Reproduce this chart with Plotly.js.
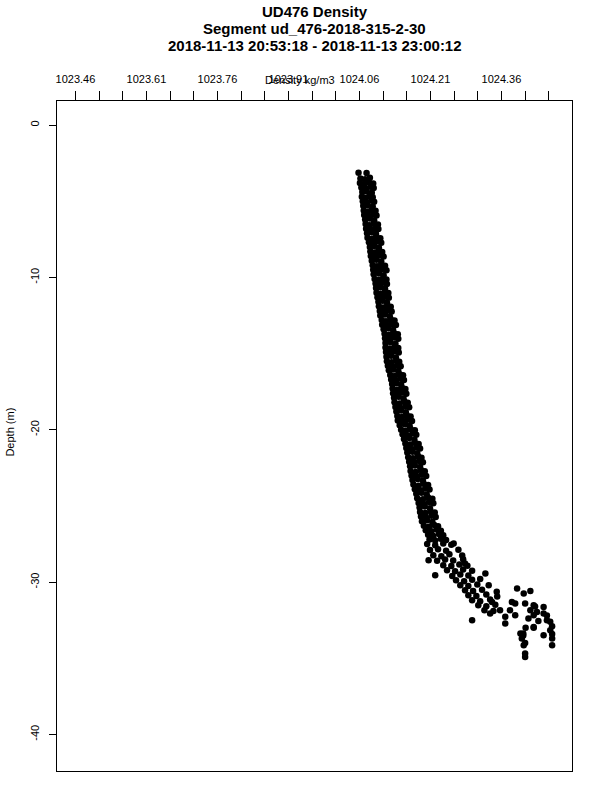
<!DOCTYPE html>
<html>
<head>
<meta charset="utf-8">
<script src="https://cdn.plot.ly/plotly-3.0.1.min.js"></script>
<style>html,body{margin:0;padding:0;background:#fff;}#chart{width:600px;height:800px;}</style>
</head>
<body>
<div id="chart"></div>
<script>
// Title lines
const titleLines = ['UD476 Density', 'Segment ud_476-2018-315-2-30', '2018-11-13 20:53:18 - 2018-11-13 23:00:12'];

// Tick values / labels for the top (density) axis
const densityTickVals = [1023.46, 1023.51, 1023.56, 1023.61, 1023.66, 1023.71, 1023.76, 1023.81, 1023.86, 1023.91, 1023.96, 1024.01, 1024.06, 1024.11, 1024.16, 1024.21, 1024.26, 1024.31, 1024.36, 1024.41, 1024.46];
const densityTickText = ['1023.46', '', '', '1023.61', '', '', '1023.76', '', '', '1023.91', '', '', '1024.06', '', '', '1024.21', '', '', '1024.36', '', ''];
const depthTickVals = [0, -10, -20, -30, -40];
const depthTickText = ['0', '-10', '-20', '-30', '-40'];

const density = [
  1024.058, 1024.075,
  1024.062, 1024.072, 1024.082,
  1024.061, 1024.070, 1024.080, 1024.089,
  1024.064, 1024.073, 1024.083, 1024.090,
  1024.066, 1024.075, 1024.086,
  1024.065, 1024.072, 1024.081, 1024.088,
  1024.067, 1024.076, 1024.085, 1024.091,
  1024.068, 1024.077, 1024.088,
  1024.069, 1024.078, 1024.086, 1024.094,
  1024.070, 1024.080, 1024.090, 1024.096,
  1024.072, 1024.082, 1024.091,
  1024.073, 1024.081, 1024.090, 1024.099,
  1024.074, 1024.084, 1024.093, 1024.100,
  1024.076, 1024.086, 1024.095,
  1024.077, 1024.087, 1024.096, 1024.104,
  1024.080, 1024.089, 1024.098, 1024.106,
  1024.082, 1024.091, 1024.101,
  1024.083, 1024.092, 1024.100, 1024.108,
  1024.084, 1024.094, 1024.103, 1024.111,
  1024.086, 1024.096, 1024.106,
  1024.088, 1024.097, 1024.106, 1024.114,
  1024.089, 1024.099, 1024.108, 1024.117,
  1024.090, 1024.101, 1024.111,
  1024.092, 1024.101, 1024.110, 1024.117,
  1024.094, 1024.103, 1024.112, 1024.118,
  1024.095, 1024.104, 1024.114,
  1024.096, 1024.105, 1024.114, 1024.121,
  1024.098, 1024.107, 1024.116, 1024.122,
  1024.100, 1024.109, 1024.118,
  1024.101, 1024.110, 1024.119, 1024.126,
  1024.103, 1024.112, 1024.121, 1024.128,
  1024.104, 1024.114, 1024.124,
  1024.107, 1024.116, 1024.126, 1024.134,
  1024.108, 1024.118, 1024.128, 1024.137,
  1024.111, 1024.121, 1024.131,
  1024.113, 1024.123, 1024.133, 1024.141,
  1024.114, 1024.124, 1024.134, 1024.142,
  1024.115, 1024.125, 1024.136,
  1024.115, 1024.124, 1024.134, 1024.142,
  1024.116, 1024.126, 1024.135, 1024.143,
  1024.117, 1024.127, 1024.137,
  1024.118, 1024.128, 1024.138, 1024.144,
  1024.120, 1024.130, 1024.140, 1024.147,
  1024.122, 1024.132, 1024.142,
  1024.125, 1024.135, 1024.145, 1024.152,
  1024.127, 1024.137, 1024.147, 1024.154,
  1024.129, 1024.138, 1024.148,
  1024.130, 1024.140, 1024.150, 1024.157,
  1024.131, 1024.141, 1024.151, 1024.159,
  1024.133, 1024.143, 1024.153,
  1024.134, 1024.145, 1024.155, 1024.162,
  1024.136, 1024.146, 1024.157, 1024.165,
  1024.138, 1024.148, 1024.158,
  1024.140, 1024.150, 1024.160, 1024.168,
  1024.141, 1024.152, 1024.162, 1024.171,
  1024.145, 1024.156, 1024.166,
  1024.148, 1024.158, 1024.168, 1024.177,
  1024.151, 1024.162, 1024.172, 1024.180,
  1024.154, 1024.165, 1024.176,
  1024.157, 1024.167, 1024.177, 1024.185,
  1024.159, 1024.169, 1024.180, 1024.188,
  1024.161, 1024.172, 1024.182,
  1024.163, 1024.173, 1024.184, 1024.191,
  1024.165, 1024.175, 1024.186, 1024.194,
  1024.167, 1024.177, 1024.188,
  1024.168, 1024.179, 1024.190, 1024.198,
  1024.170, 1024.181, 1024.192, 1024.201,
  1024.172, 1024.183, 1024.194,
  1024.174, 1024.185, 1024.196, 1024.205,
  1024.177, 1024.188, 1024.199, 1024.208,
  1024.180, 1024.191, 1024.202,
  1024.182, 1024.194, 1024.205, 1024.214,
  1024.185, 1024.196, 1024.207, 1024.216,
  1024.187, 1024.198, 1024.209,
  1024.188, 1024.199, 1024.210, 1024.219,
  1024.190, 1024.201, 1024.212, 1024.221,
  1024.192, 1024.203, 1024.214,
  1024.196, 1024.207, 1024.218, 1024.226,
  1024.200, 1024.212, 1024.223, 1024.232,
  1024.205, 1024.216, 1024.228, 1024.237,
  1024.208, 1024.220, 1024.232, 1024.243,
  1024.203, 1024.220, 1024.237, 1024.254,
  1024.209, 1024.226, 1024.243, 1024.269, 1024.259,
  1024.216, 1024.233, 1024.250, 1024.277,
  1024.206, 1024.224, 1024.241, 1024.258, 1024.279,
  1024.237, 1024.254, 1024.271, 1024.288, 1024.283,
  1024.245, 1024.262, 1024.279, 1024.298,
  1024.220, 1024.256, 1024.273, 1024.290, 1024.326,
  1024.264, 1024.281, 1024.298, 1024.315,
  1024.273, 1024.290, 1024.309, 1024.333,
  1024.283, 1024.300, 1024.319, 1024.350, 1024.393, 1024.421, 1024.407,
  1024.290, 1024.307, 1024.328, 1024.351,
  1024.298, 1024.315, 1024.336, 1024.340,
  1024.311, 1024.328, 1024.347, 1024.382, 1024.389, 1024.410, 1024.428, 1024.431, 1024.449,
  1024.324, 1024.343, 1024.357, 1024.378, 1024.336, 1024.435, 1024.421,
  1024.368, 1024.389, 1024.428, 1024.456, 1024.298, 1024.449,
  1024.417, 1024.456, 1024.438, 1024.463,
  1024.368, 1024.428, 1024.467, 1024.411, 1024.428,
  1024.463, 1024.449, 1024.400, 1024.467, 1024.406,
  1024.403, 1024.467, 1024.406,
  1024.407, 1024.467, 1024.410,
  1024.410, 1024.410
];
const depth = [
  -3.13, -3.15,
  -3.50, -3.56, -3.46,
  -3.80, -3.87, -3.75, -3.83,
  -4.10, -4.17, -4.05, -4.13,
  -4.40, -4.34, -4.45,
  -4.70, -4.77, -4.65, -4.73,
  -5.00, -5.07, -4.95, -5.03,
  -5.30, -5.24, -5.35,
  -5.60, -5.67, -5.55, -5.63,
  -5.90, -5.97, -5.85, -5.93,
  -6.20, -6.14, -6.25,
  -6.50, -6.57, -6.45, -6.53,
  -6.80, -6.87, -6.75, -6.83,
  -7.10, -7.04, -7.15,
  -7.40, -7.47, -7.35, -7.43,
  -7.70, -7.77, -7.65, -7.73,
  -8.00, -7.94, -8.05,
  -8.30, -8.37, -8.25, -8.33,
  -8.60, -8.67, -8.55, -8.63,
  -8.90, -8.84, -8.95,
  -9.20, -9.27, -9.15, -9.23,
  -9.50, -9.57, -9.45, -9.53,
  -9.80, -9.74, -9.85,
  -10.10, -10.17, -10.05, -10.13,
  -10.40, -10.47, -10.35, -10.43,
  -10.70, -10.64, -10.75,
  -11.00, -11.07, -10.95, -11.03,
  -11.30, -11.37, -11.25, -11.33,
  -11.60, -11.54, -11.65,
  -11.90, -11.97, -11.85, -11.93,
  -12.20, -12.27, -12.15, -12.23,
  -12.50, -12.44, -12.55,
  -12.80, -12.87, -12.75, -12.83,
  -13.10, -13.17, -13.05, -13.13,
  -13.40, -13.34, -13.45,
  -13.70, -13.77, -13.65, -13.73,
  -14.00, -14.07, -13.95, -14.03,
  -14.30, -14.24, -14.35,
  -14.60, -14.67, -14.55, -14.63,
  -14.90, -14.97, -14.85, -14.93,
  -15.20, -15.14, -15.25,
  -15.50, -15.57, -15.45, -15.53,
  -15.80, -15.87, -15.75, -15.83,
  -16.10, -16.04, -16.15,
  -16.40, -16.47, -16.35, -16.43,
  -16.70, -16.77, -16.65, -16.73,
  -17.00, -16.94, -17.05,
  -17.30, -17.37, -17.25, -17.33,
  -17.60, -17.67, -17.55, -17.63,
  -17.90, -17.84, -17.95,
  -18.20, -18.27, -18.15, -18.23,
  -18.50, -18.57, -18.45, -18.53,
  -18.80, -18.74, -18.85,
  -19.10, -19.17, -19.05, -19.13,
  -19.40, -19.47, -19.35, -19.43,
  -19.70, -19.64, -19.75,
  -20.00, -20.07, -19.95, -20.03,
  -20.30, -20.37, -20.25, -20.33,
  -20.60, -20.54, -20.65,
  -20.90, -20.97, -20.85, -20.93,
  -21.20, -21.27, -21.15, -21.23,
  -21.50, -21.44, -21.55,
  -21.80, -21.87, -21.75, -21.83,
  -22.10, -22.17, -22.05, -22.13,
  -22.40, -22.34, -22.45,
  -22.70, -22.77, -22.65, -22.73,
  -23.00, -23.07, -22.95, -23.03,
  -23.30, -23.24, -23.35,
  -23.60, -23.67, -23.55, -23.63,
  -23.90, -23.97, -23.85, -23.93,
  -24.20, -24.14, -24.25,
  -24.50, -24.57, -24.45, -24.53,
  -24.80, -24.87, -24.75, -24.83,
  -25.10, -25.04, -25.15,
  -25.40, -25.47, -25.35, -25.43,
  -25.70, -25.77, -25.65, -25.73,
  -26.00, -25.94, -26.05,
  -26.30, -26.37, -26.25, -26.33,
  -26.60, -26.67, -26.55, -26.63,
  -26.90, -26.97, -26.85, -26.93,
  -27.20, -27.27, -27.15, -27.23,
  -27.50, -27.58, -27.46, -27.55,
  -27.90, -27.84, -27.95, -27.88, -27.47,
  -28.23, -28.30, -28.18, -28.25,
  -28.56, -28.60, -28.52, -28.58, -28.50,
  -28.89, -28.95, -28.85, -28.92, -28.78,
  -29.22, -29.28, -29.18, -29.25,
  -29.55, -29.60, -29.50, -29.57, -29.44,
  -29.88, -29.94, -29.84, -29.80,
  -30.20, -30.26, -30.16, -30.20,
  -30.53, -30.58, -30.50, -30.64, -30.42, -30.58, -30.75,
  -30.86, -30.92, -30.82, -30.95,
  -31.19, -31.25, -31.15, -31.30,
  -31.52, -31.58, -31.48, -31.30, -31.41, -31.41, -31.52, -31.60, -31.63,
  -31.85, -31.90, -31.85, -31.85, -32.06, -31.96, -31.85,
  -32.28, -32.17, -32.17, -32.20, -32.50, -32.06,
  -32.39, -32.50, -32.55, -32.60,
  -32.72, -32.94, -32.90, -33.00, -33.00,
  -33.16, -33.49, -33.38, -33.40, -33.38,
  -33.71, -33.71, -33.50,
  -34.14, -34.14, -34.00,
  -34.69, -34.91
];

const FONT = 'Liberation Sans, Arial, Helvetica, sans-serif';

const trace = {
  type: 'scatter',
  mode: 'markers',
  x: density,
  y: depth,
  marker: {color: '#000000', size: 6.5, line: {width: 0}},
  hoverinfo: 'x+y'
};

// paper-y positions of the three title lines (centres at ~11.5, 28.5, 45.5 px from top)
const titleY = [1.1336, 1.1083, 1.0829];
const titleAnnots = titleLines.map((t, i) => ({
  text: '<b>' + t + '</b>', xref: 'paper', yref: 'paper', x: 0.5, y: titleY[i],
  xanchor: 'center', yanchor: 'middle', showarrow: false,
  font: {family: FONT, size: 15, color: '#000'}
}));

const layout = {
  width: 600,
  height: 800,
  paper_bgcolor: '#ffffff',
  plot_bgcolor: '#ffffff',
  showlegend: false,
  margin: {l: 57, r: 28, t: 101, b: 29, pad: 0},
  font: {family: FONT, size: 11, color: '#000000'},
  xaxis: {
    side: 'top',
    range: [1023.421, 1024.509],
    tickmode: 'array',
    tickvals: densityTickVals,
    ticktext: densityTickText,
    ticks: 'outside', ticklen: 9, tickwidth: 1, tickcolor: '#000',
    showline: true, linecolor: '#000', linewidth: 1, mirror: true,
    showgrid: false, zeroline: false,
    tickfont: {family: FONT, size: 11, color: '#000'},
    ticklabelstandoff: 4
  },
  yaxis: {
    range: [-42.4, 1.58],
    tickmode: 'array',
    tickvals: depthTickVals,
    ticktext: depthTickText,
    tickangle: -90,
    ticks: 'outside', ticklen: 7, tickwidth: 1, tickcolor: '#000',
    showline: true, linecolor: '#000', linewidth: 1, mirror: true,
    showgrid: false, zeroline: false,
    tickfont: {family: FONT, size: 11, color: '#000'},
    ticklabelstandoff: 6
  },
  annotations: titleAnnots.concat([
    {text: 'Density kg/m3', xref: 'paper', yref: 'paper', x: 0.472, y: 1.0314,
     xanchor: 'center', yanchor: 'middle', showarrow: false,
     font: {family: FONT, size: 11, color: '#000'}},
    {text: 'Depth (m)', xref: 'paper', yref: 'paper', x: -0.092, y: 0.506,
     xanchor: 'center', yanchor: 'middle', textangle: -90, showarrow: false,
     font: {family: FONT, size: 11, color: '#000'}}
  ])
};

Plotly.newPlot('chart', [trace], layout, {displayModeBar: false, staticPlot: true});
</script>
</body>
</html>
